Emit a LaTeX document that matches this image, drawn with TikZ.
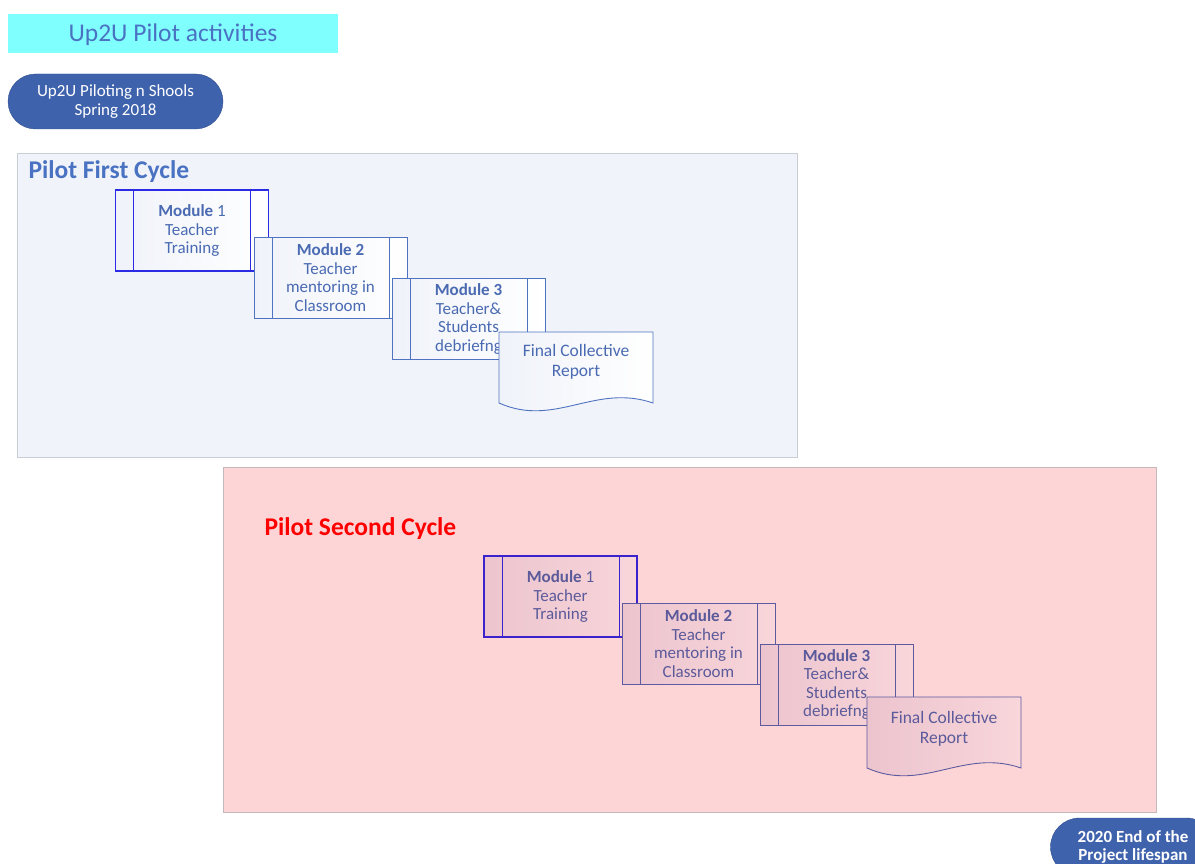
\documentclass[tikz,border=0pt]{standalone}
\usepackage{fontspec}
\setmainfont{Carlito}
\usetikzlibrary{shapes.misc}

\definecolor{titlecyan}{HTML}{80FFFF}
\definecolor{titleblue}{HTML}{4A72C2}
\definecolor{pillblue}{HTML}{3F62AD}
\definecolor{pillline}{HTML}{2F4E8E}
\definecolor{cycleonefill}{HTML}{F0F3F9}
\definecolor{cycleoneline}{HTML}{C9CDD4}
\definecolor{cycletwofill}{HTML}{FDD5D6}
\definecolor{cycletwoline}{HTML}{C4B8BA}
\definecolor{modstrong}{HTML}{2B2BE6}
\definecolor{modline}{HTML}{4F73C0}
\definecolor{modtext}{HTML}{4A6AB2}
\definecolor{modstrongtwo}{HTML}{3A22CC}
\definecolor{modlinetwo}{HTML}{5E5AA0}
\definecolor{modtexttwo}{HTML}{5B5A9A}
\definecolor{twoleft}{HTML}{ECC4CE}
\definecolor{tworight}{HTML}{F8D6DA}

\tikzset{
  modbox/.style={draw=#1, line width=0.9pt, minimum width=153pt, minimum height=81pt,
    inner sep=0pt, align=center, font=\fontsize{17}{18.5}\selectfont,
    path picture={\draw[#1, line width=0.9pt]
      ([xshift=18pt]path picture bounding box.north west) -- ([xshift=18pt]path picture bounding box.south west)
      ([xshift=-18pt]path picture bounding box.north east) -- ([xshift=-18pt]path picture bounding box.south east);}},
  onefill/.style={left color=cycleonefill!70!modline!25, right color=white, text=modtext},
  twofill/.style={left color=twoleft, right color=tworight, text=modtexttwo},
  doctext/.style={align=center, font=\fontsize{17.5}{19.5}\selectfont},
  pill/.style={rounded rectangle, draw=pillline, fill=pillblue, text=white, align=center,
    inner sep=0pt, font=\fontsize{17}{19}\selectfont}
}

\begin{document}
\begin{tikzpicture}[x=1pt,y=-1pt]

\useasboundingbox (0,0) rectangle (1195,864);

\fill [titlecyan] (8,14) rectangle (338,53);
\node [text=titleblue, font=\fontsize{25.5}{28}\selectfont] (title) at (173,35) {Up2U Pilot activities};

\node [pill, minimum width=215pt, minimum height=55pt] (start) at (115.5,101.5) {Up2U Piloting n Shools\\Spring 2018};

% first cycle
\draw [draw=cycleoneline, fill=cycleonefill] (17,153) rectangle (797,457);
\node [anchor=west, text=titleblue, font=\fontsize{25.5}{28}\selectfont\bfseries] (cycleone) at (25,171.5) {Pilot First Cycle};

\node [modbox=modstrong, line width=1.4pt, onefill] (modone) at (192,230.5) {\textbf{Module} 1\\Teacher\\Training};

\node [modbox=modline, onefill] (modtwo) at (330.5,277.5) {\textbf{Module 2}\\Teacher\\mentoring in\\Classroom};

\node [modbox=modline, onefill] (modthree) at (468.5,319) {\textbf{Module 3}\\Teacher\&\\Students\\debriefng};

\draw [draw=modline, line width=0.9pt, left color=cycleonefill!70!modline!25, right color=white] (499,332) -- (653,332) -- (653,403) .. controls (595,383) and (555,428) .. (499,403) -- cycle;
\node [doctext, text=modtext] (reportone) at (576,362) {Final Collective\\Report};

% second cycle
\draw [draw=cycletwoline, fill=cycletwofill] (223,467) rectangle (1156,812);
\node [anchor=west, text=red, font=\fontsize{25.5}{28}\selectfont\bfseries] (cycletwo) at (261,528.5) {Pilot Second Cycle};

\node [modbox=modstrongtwo, line width=1.4pt, twofill] (modfour) at (560.5,596.5) {\textbf{Module} 1\\Teacher\\Training};

\node [modbox=modlinetwo, twofill] (modfive) at (698.5,643.5) {\textbf{Module 2}\\Teacher\\mentoring in\\Classroom};

\node [modbox=modlinetwo, twofill] (modsix) at (836.5,684.5) {\textbf{Module 3}\\Teacher\&\\Students\\debriefng};

\draw [draw=modlinetwo, line width=0.9pt, left color=twoleft, right color=tworight] (867,697) -- (1021,697) -- (1021,768) .. controls (963,748) and (923,793) .. (867,768) -- cycle;
\node [doctext, text=modtexttwo] (reporttwo) at (944,729) {Final Collective\\Report};

\node [pill, font=\fontsize{17}{18.5}\selectfont\bfseries, minimum width=165pt, minimum height=58pt] (finish) at (1133,847) {2020 End of the\\Project lifespan};

\end{tikzpicture}
\end{document}
